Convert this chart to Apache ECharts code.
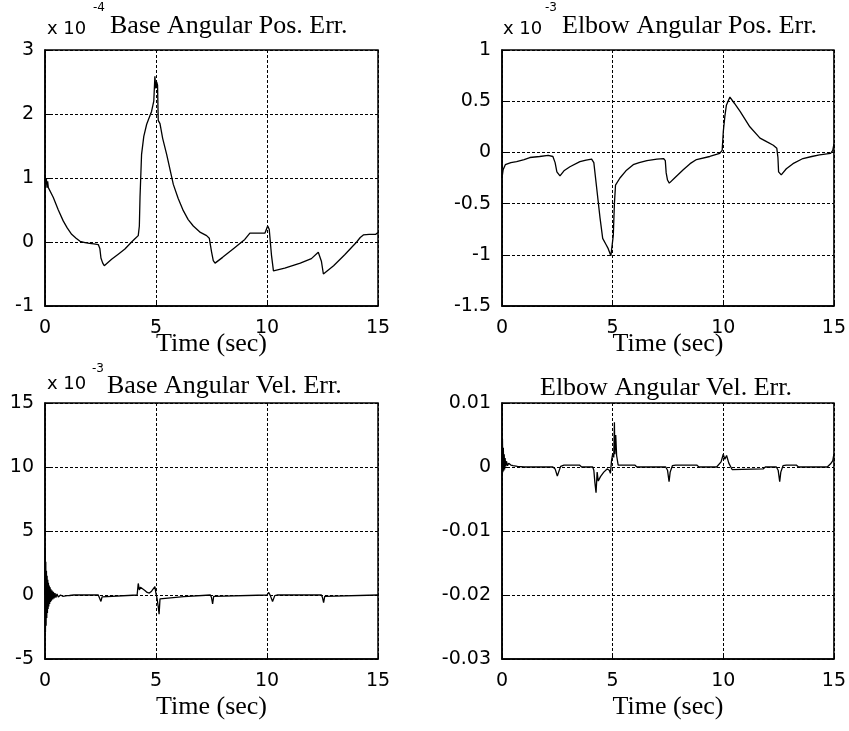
<!DOCTYPE html>
<html>
<head>
<meta charset="utf-8">
<script src="https://cdn.jsdelivr.net/npm/echarts@6/dist/echarts.min.js"></script>
<style>
html, body { margin: 0; padding: 0; background: #fff; }
#chart { width: 849px; height: 731px; }
</style>
</head>
<body>
<div id="chart"></div>
<script>
// base angular position error, x 1e-4  [t (sec), value]
var basePos = [[0,1.05],[0.03,0.9],[0.06,1.0],[0.09,0.85],[0.12,0.95],[0.15,0.85],[0.2,0.85],[0.37,0.7],[0.6,0.5],
  [0.82,0.33],[1.0,0.22],[1.2,0.12],[1.4,0.06],[1.58,0.01],[1.8,-0.01],[2.0,-0.02],[2.2,-0.03],[2.4,-0.04],
  [2.47,-0.1],[2.52,-0.25],[2.6,-0.33],[2.67,-0.37],[3.0,-0.27],[3.3,-0.19],[3.6,-0.11],[3.9,0.0],[4.05,0.05],
  [4.2,0.1],[4.25,0.25],[4.28,0.7],[4.35,1.37],[4.45,1.65],[4.58,1.84],[4.7,1.95],[4.8,2.04],[4.9,2.2],
  [4.95,2.59],[4.99,2.4],[5.03,2.5],[5.07,2.45],[5.1,1.9],[5.18,1.85],[5.3,1.62],[5.48,1.37],[5.78,0.9],
  [6.0,0.68],[6.23,0.49],[6.45,0.35],[6.68,0.25],[7.0,0.15],[7.28,0.1],[7.4,0.06],[7.45,0.03],[7.5,-0.15],
  [7.58,-0.29],[7.66,-0.33],[8.0,-0.24],[8.5,-0.1],[9.0,0.04],[9.23,0.14],[9.5,0.14],[9.91,0.14],[9.97,0.15],
  [10.03,0.25],[10.1,0.2],[10.15,0.0],[10.2,-0.2],[10.29,-0.45],[10.8,-0.41],[11.5,-0.33],[12.0,-0.26],
  [12.31,-0.16],[12.38,-0.17],[12.45,-0.3],[12.54,-0.5],[13.0,-0.37],[13.5,-0.2],[14.04,0.0],[14.2,0.07],
  [14.34,0.11],[14.6,0.12],[14.9,0.12],[15.0,0.15]];

// elbow angular position error, x 1e-3
var elbowPos = [[0,-0.25],[0.05,-0.17],[0.15,-0.12],[0.4,-0.1],[0.66,-0.09],[1.0,-0.07],[1.26,-0.05],[1.7,-0.04],
  [2.09,-0.03],[2.3,-0.04],[2.4,-0.1],[2.48,-0.19],[2.62,-0.23],[2.8,-0.18],[3.07,-0.14],[3.52,-0.09],
  [3.8,-0.075],[4.05,-0.065],[4.15,-0.1],[4.28,-0.35],[4.43,-0.64],[4.55,-0.84],[4.7,-0.9],[4.8,-0.94],
  [4.92,-1.01],[4.97,-1.0],[5.03,-0.81],[5.08,-0.5],[5.13,-0.32],[5.33,-0.25],[5.6,-0.18],[5.93,-0.12],
  [6.2,-0.1],[6.55,-0.08],[7.0,-0.065],[7.3,-0.06],[7.38,-0.08],[7.42,-0.2],[7.48,-0.27],[7.56,-0.3],
  [7.8,-0.25],[8.19,-0.17],[8.5,-0.11],[8.79,-0.07],[9.39,-0.04],[9.84,-0.01],[9.95,0.02],[10.0,0.2],
  [10.07,0.35],[10.14,0.46],[10.3,0.54],[10.5,0.48],[10.76,0.4],[11.2,0.25],[11.66,0.14],[12.0,0.1],
  [12.26,0.07],[12.42,0.04],[12.47,-0.05],[12.5,-0.19],[12.62,-0.22],[12.85,-0.16],[13.15,-0.11],
  [13.6,-0.06],[14.0,-0.04],[14.35,-0.025],[14.85,-0.01],[14.95,0.02],[15,0.08]];

// base angular velocity error, x 1e-3
var baseVel = [[0,0],[0.01,3.7],[0.02,-2.9],[0.035,2.6],[0.05,-2.4],[0.065,1.9],[0.08,-1.8],[0.095,1.5],
  [0.11,-1.4],[0.125,1.2],[0.14,-1.1],[0.155,0.95],[0.17,-0.9],[0.19,0.75],[0.21,-0.7],[0.23,0.6],
  [0.25,-0.55],[0.27,0.45],[0.29,-0.45],[0.32,0.35],[0.35,-0.35],[0.38,0.25],[0.41,-0.27],[0.45,0.15],
  [0.49,-0.2],[0.54,0.08],[0.6,-0.15],[0.7,0.0],[0.8,-0.1],[1.0,-0.05],[1.1,-0.04],[1.3,0],[2.4,0],
  [2.47,-0.1],[2.52,-0.5],[2.57,-0.15],[2.65,0],[4.15,0],[4.2,0.9],[4.25,0.4],[4.3,0.6],[4.38,0.45],
  [4.5,0.35],[4.6,0.2],[4.7,0.15],[4.8,0.3],[4.95,0.65],[5.0,0.1],[5.05,-0.3],[5.1,-0.9],[5.14,-1.5],
  [5.18,-0.3],[5.25,-0.15],[6.25,-0.13],[6.3,0],[7.45,0],[7.5,-0.2],[7.55,-0.7],[7.6,-0.1],[7.65,0],
  [10.0,0],[10.08,0.2],[10.15,-0.05],[10.25,-0.5],[10.35,-0.05],[10.45,0],[12.45,0],[12.5,-0.2],
  [12.55,-0.6],[12.6,-0.1],[12.65,0],[15,0]];

// elbow angular velocity error
var elbowVel = [[0,0],[0.02,0.0044],[0.04,-0.0008],[0.06,0.003],[0.08,-0.0006],[0.1,0.002],[0.12,-0.0004],
  [0.14,0.0014],[0.17,0.0001],[0.2,0.0009],[0.25,0.0002],[0.3,0.0006],[0.4,0.0003],[0.5,0.0002],[0.7,0.0001],
  [1.0,0],[2.3,0],[2.4,-0.0003],[2.5,-0.0014],[2.56,-0.0008],[2.65,0.0001],[2.8,0.0003],[3.5,0.0003],[3.6,0],
  [4.1,0],[4.15,-0.0005],[4.2,-0.0025],[4.25,-0.004],[4.3,-0.0008],[4.35,-0.0022],[4.45,-0.0015],
  [4.6,-0.0008],[4.75,-0.0003],[4.85,-0.0005],[4.9,-0.001],[4.95,0.001],[5.0,0.002],[5.05,0.0015],
  [5.08,0.007],[5.1,0.002],[5.14,0.005],[5.18,0.0018],[5.25,0.0003],[6.0,0.0003],[6.1,0],[7.4,0],
  [7.48,-0.0005],[7.55,-0.0023],[7.6,-0.0008],[7.7,0.0002],[7.85,0.0003],[8.8,0.0003],[8.9,0],[9.7,0],
  [9.9,0.0008],[10.0,0.002],[10.07,0.0012],[10.15,0.0018],[10.25,0.0006],[10.4,-0.0004],[11.8,-0.0003],
  [11.9,0],[12.4,0],[12.48,-0.0005],[12.55,-0.0023],[12.6,-0.0008],[12.7,0.0002],[12.85,0.0003],
  [13.3,0.0003],[13.4,0],[14.7,0],[14.85,0.0005],[14.95,0.001],[15,0.002]];

var titles = ['Base Angular Pos. Err.', 'Elbow Angular Pos. Err.', 'Base Angular Vel. Err.', 'Elbow Angular Vel. Err.'];
var yRanges = [[-1, 3, 1], [-1.5, 1, 0.5], [-5, 15, 5], [-0.03, 0.01, 0.01]];
var xLabel = 'Time (sec)';

var sans = "'DejaVu Sans', Arial, sans-serif";
var serif = "'Liberation Serif', 'Times New Roman', serif";

var grids = [
  {left: 45, top: 50, width: 333, height: 256},
  {left: 502, top: 50, width: 332, height: 256},
  {left: 45, top: 403, width: 333, height: 256},
  {left: 502, top: 403, width: 332, height: 256}
];
var nameGaps = [25, 25, 35, 35];
var allData = [basePos, elbowPos, baseVel, elbowVel];

var chart = echarts.init(document.getElementById('chart'));

var dash = {type: [3, 2], color: '#000', width: 1};

var option = {
  animation: false,
  backgroundColor: '#fff',
  grid: grids.map(function (g) {
    return Object.assign({show: true, borderColor: '#000', borderWidth: 1.5, containLabel: false}, g);
  }),
  xAxis: grids.map(function (g, i) {
    return {
      type: 'value', gridIndex: i, min: 0, max: 15, interval: 5,
      name: xLabel, nameLocation: 'middle', nameGap: nameGaps[i], nameMoveOverlap: false,
      nameTextStyle: {fontFamily: serif, fontSize: 26, color: '#000'},
      axisLine: {show: true, onZero: false, lineStyle: {color: '#000', width: 1.5}},
      axisTick: {show: true, inside: true, length: 5, lineStyle: {color: '#000'}},
      axisLabel: {color: '#000', fontFamily: sans, fontSize: 19, margin: 13},
      splitLine: {show: true, lineStyle: dash}
    };
  }),
  yAxis: yRanges.map(function (r, i) {
    return {
      type: 'value', gridIndex: i, min: r[0], max: r[1], interval: r[2],
      axisLine: {show: true, onZero: false, lineStyle: {color: '#000', width: 1.5}},
      axisTick: {show: true, inside: true, length: 5, lineStyle: {color: '#000'}},
      axisLabel: {color: '#000', fontFamily: sans, fontSize: 19, margin: 11},
      splitLine: {show: true, lineStyle: dash}
    };
  }),
  series: allData.map(function (d, i) {
    return {
      type: 'line', xAxisIndex: i, yAxisIndex: i, data: d,
      showSymbol: false, symbol: 'none',
      lineStyle: {color: '#000', width: 1.3}
    };
  }),
  graphic: [
    // multiplier labels
    {type: 'text', style: {x: 47, y: 29, text: 'x 10', font: '18px ' + sans, fill: '#000', verticalAlign: 'middle'}},
    {type: 'text', style: {x: 93, y: 8, text: '-4', font: '12px ' + sans, fill: '#000', verticalAlign: 'middle'}},
    {type: 'text', style: {x: 503, y: 29, text: 'x 10', font: '18px ' + sans, fill: '#000', verticalAlign: 'middle'}},
    {type: 'text', style: {x: 545, y: 8, text: '-3', font: '12px ' + sans, fill: '#000', verticalAlign: 'middle'}},
    {type: 'text', style: {x: 47, y: 384, text: 'x 10', font: '18px ' + sans, fill: '#000', verticalAlign: 'middle'}},
    {type: 'text', style: {x: 92, y: 369, text: '-3', font: '12px ' + sans, fill: '#000', verticalAlign: 'middle'}},
    // titles
    {type: 'text', style: {x: 110, y: 26, text: titles[0], font: '26px ' + serif, fill: '#000', verticalAlign: 'middle'}},
    {type: 'text', style: {x: 562, y: 26, text: titles[1], font: '26px ' + serif, fill: '#000', verticalAlign: 'middle'}},
    {type: 'text', style: {x: 107, y: 386, text: titles[2], font: '26px ' + serif, fill: '#000', verticalAlign: 'middle'}},
    {type: 'text', style: {x: 540, y: 388, text: titles[3], font: '26px ' + serif, fill: '#000', verticalAlign: 'middle'}}
  ]
};

chart.setOption(option);
</script>
</body>
</html>
